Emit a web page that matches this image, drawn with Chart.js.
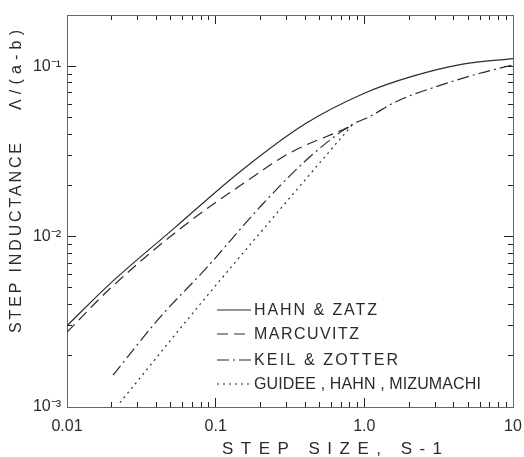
<!DOCTYPE html>
<html>
<head>
<meta charset="utf-8">
<script src="https://cdn.jsdelivr.net/npm/chart.js@4"></script>
<style>
  html, body { margin: 0; padding: 0; background: #fff; }
  #wrap { width: 524px; height: 457px; }
</style>
</head>
<body>
<div id="wrap"><canvas id="Chart1"></canvas></div>
<script>
// data (step size S-1 vs step inductance)
const hahnX = [0.01, 0.0195, 0.0532, 0.141, 0.398, 1.0, 2.12, 4.6, 10];
const hahnY = [0.0030, 0.0053, 0.0113, 0.0235, 0.0458, 0.0695, 0.0875, 0.103, 0.111];

const marcX = [0.01, 0.0195, 0.0575, 0.162, 0.316, 0.686, 0.826];
const marcY = [0.00275, 0.00496, 0.0111, 0.0212, 0.031, 0.0417, 0.0446];

const keilX = [0.0204, 0.0422, 0.0874, 0.208, 0.451, 0.838, 1.04, 1.66, 3.59, 5.98, 10];
const keilY = [0.00154, 0.00336, 0.0066, 0.0156, 0.0305, 0.0458, 0.0497, 0.0624, 0.0796, 0.091, 0.102];

const guidX = [0.0227, 0.0784, 0.27, 0.764, 0.838];
const guidY = [0.00106, 0.0040, 0.0144, 0.0417, 0.0458];

const seriesNames = ['HAHN & ZATZ', 'MARCUVITZ', 'KEIL & ZOTTER', 'GUIDEE , HAHN , MIZUMACHI'];

const xTicks = [0.01, 0.1, 1, 10];
const xTickLabels = ['0.01', '0.1', '1.0', '10'];
const yTicks = [0.001, 0.01, 0.1];
const yTickLabels = ['10\u207B\u00B3', '10\u207B\u00B2', '10\u207B\u00B9'];

const FONT = '"Liberation Sans", Arial, sans-serif';
const INK = '#2b2b2b';
const dashes = [[], [11, 6], [12, 4, 2, 4], [2, 4]];

function zip(xs, ys) {
  return xs.map((x, i) => ({ x: x, y: ys[i] }));
}

// 2..9 times each decade between lo and hi
function minorValues(lo, hi) {
  const out = [];
  for (let e = -4; e <= 2; e++) {
    for (let m = 2; m <= 9; m++) {
      const v = m * Math.pow(10, e);
      if (v > lo && v < hi) out.push(v);
    }
  }
  return out;
}

// draw text stretched to a given width with letter spacing
function spacedText(ctx, text, x, y, width) {
  ctx.letterSpacing = '0px';
  const base = ctx.measureText(text).width;
  const sp = (width - base) / Math.max(1, text.length - 1);
  ctx.letterSpacing = sp.toFixed(2) + 'px';
  ctx.fillText(text, x, y);
  ctx.letterSpacing = '0px';
}

// a log axis that only draws inward tick marks (no size in the layout)
function tickAxis(position, min, max, values, len) {
  const horiz = position === 'top' || position === 'bottom';
  return {
    type: 'logarithmic',
    axis: horiz ? 'x' : 'y',
    position: position,
    min: min,
    max: max,
    weight: 0,
    afterBuildTicks: s => { s.ticks = values.map(v => ({ value: v })); },
    afterFit: s => {
      if (horiz) s.height = 0; else s.width = 0;
      s.paddingLeft = 0; s.paddingRight = 0; s.paddingTop = 0; s.paddingBottom = 0;
    },
    grid: { display: true, drawOnChartArea: false, drawTicks: true, tickLength: -len, tickColor: '#222', tickWidth: 1 },
    border: { display: false },
    ticks: { display: false }
  };
}

// legend and axis titles
const textPlugin = {
  id: 'labelsText',
  afterDraw(chart) {
    const ctx = chart.ctx;
    ctx.save();
    ctx.font = '16px ' + FONT;
    ctx.fillStyle = INK;
    ctx.textBaseline = 'middle';
    ctx.textAlign = 'left';
    const rowsY = [310, 334, 360, 384];
    const textW = [123, 105, 144, 227];
    seriesNames.forEach((name, i) => {
      ctx.strokeStyle = INK;
      ctx.lineWidth = 1.2;
      ctx.setLineDash(dashes[i]);
      ctx.beginPath();
      ctx.moveTo(217, rowsY[i]);
      ctx.lineTo(251, rowsY[i]);
      ctx.stroke();
      ctx.setLineDash([]);
      spacedText(ctx, name, 254, rowsY[i] + 1, textW[i]);
    });

    ctx.font = '17px ' + FONT;
    spacedText(ctx, 'STEP SIZE, S-1', 222, 449, 220);
    ctx.font = '16px ' + FONT;
    ctx.translate(17, 333);
    ctx.rotate(-Math.PI / 2);
    spacedText(ctx, 'STEP INDUCTANCE', 0, 0, 190);
    spacedText(ctx, '\u039B/(a-b)', 223, 0, 80);
    ctx.restore();
  }
};

function makeChart() {
  const ctx = document.getElementById('Chart1');
  const sets = [zip(hahnX, hahnY), zip(marcX, marcY), zip(keilX, keilY), zip(guidX, guidY)];
  const datasets = sets.map((d, i) => ({
    label: seriesNames[i],
    data: d,
    xAxisID: 'x',
    yAxisID: 'y',
    borderColor: INK,
    borderWidth: 1.2,
    borderDash: dashes[i],
    pointRadius: 0,
    fill: false,
    cubicInterpolationMode: 'monotone'
  }));

  const xMinor = minorValues(0.01, 10);
  const yMinor = minorValues(0.001, 0.2);

  const config = {
    type: 'line',
    data: { datasets: datasets },
    options: {
      responsive: true,
      maintainAspectRatio: false,
      animation: false,
      layout: { padding: { top: 15, right: 11, left: 0, bottom: 0 } },
      plugins: { legend: { display: false }, tooltip: { enabled: false } },
      scales: {
        x: {
          type: 'logarithmic',
          position: 'bottom',
          min: 0.01,
          max: 10,
          weight: 1,
          afterFit: s => { s.height = 50; s.paddingLeft = 0; s.paddingRight = 0; },
          afterBuildTicks: s => { s.ticks = xTicks.map(v => ({ value: v })); },
          grid: { display: true, drawOnChartArea: false, drawTicks: true, tickLength: -9, tickColor: '#222', tickWidth: 1 },
          border: { display: true, color: '#666', width: 1 },
          ticks: {
            autoSkip: false,
            maxRotation: 0,
            padding: 19,
            color: INK,
            font: { family: FONT, size: 16 },
            callback: v => {
              const i = xTicks.findIndex(t => Math.abs(t - v) < t * 1e-6);
              return i >= 0 ? xTickLabels[i] : '';
            }
          }
        },
        y: {
          type: 'logarithmic',
          position: 'left',
          min: 0.001,
          max: 0.2,
          weight: 1,
          afterFit: s => { s.width = 67; s.paddingTop = 0; s.paddingBottom = 0; },
          afterBuildTicks: s => { s.ticks = yTicks.map(v => ({ value: v })); },
          grid: { display: true, drawOnChartArea: false, drawTicks: true, tickLength: -9, tickColor: '#222', tickWidth: 1 },
          border: { display: true, color: '#666', width: 1 },
          ticks: {
            autoSkip: false,
            padding: 15,
            color: INK,
            font: { family: FONT, size: 16 },
            callback: v => {
              const i = yTicks.findIndex(t => Math.abs(t - v) < t * 1e-6);
              return i >= 0 ? yTickLabels[i] : '';
            }
          }
        },
        xMinor: tickAxis('bottom', 0.01, 10, xMinor, 5),
        xTop: Object.assign(tickAxis('top', 0.01, 10, xTicks, 9), { border: { display: true, color: '#666', width: 1 } }),
        xTopMinor: tickAxis('top', 0.01, 10, xMinor, 5),
        yMinor: tickAxis('left', 0.001, 0.2, yMinor, 5),
        yRight: Object.assign(tickAxis('right', 0.001, 0.2, yTicks, 9), { border: { display: true, color: '#666', width: 1 } }),
        yRightMinor: tickAxis('right', 0.001, 0.2, yMinor, 5)
      }
    },
    plugins: [textPlugin]
  };

  new Chart(ctx, config);
}

document.addEventListener('DOMContentLoaded', makeChart);
</script>
</body>
</html>
